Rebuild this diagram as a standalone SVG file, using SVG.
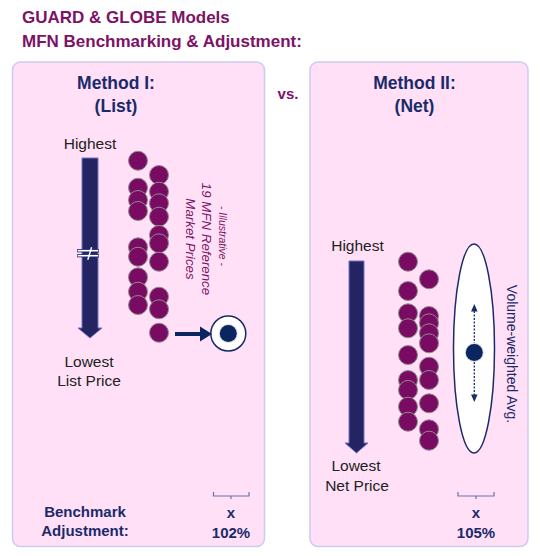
<svg xmlns="http://www.w3.org/2000/svg" width="541" height="556" viewBox="0 0 541 556">
<defs>
<style>
.title{font-family:"Liberation Sans",Arial,sans-serif;font-weight:bold;font-size:17px;fill:#7D1266}
.head{font-family:"Liberation Sans",Arial,sans-serif;font-weight:bold;font-size:17.5px;fill:#1B2A6B;text-anchor:middle}
.lbl{font-family:"Liberation Sans",Arial,sans-serif;font-size:15.5px;fill:#222222;text-anchor:middle}
.bot{font-family:"Liberation Sans",Arial,sans-serif;font-weight:bold;font-size:15px;fill:#1B2A6B;text-anchor:middle}
.ill{font-family:"Liberation Sans",Arial,sans-serif;font-style:italic;fill:#7D1266;text-anchor:middle}
.panel{fill:#FFE0F7;stroke:#CCCCF0;stroke-width:1.5}
.dot{fill:#7A0B63;stroke:#8C8C8C;stroke-width:1}
.bigarrow{fill:#252462;stroke:#6E72C4;stroke-width:1}
.brace{fill:none;stroke:#6B74A8;stroke-width:1.2}
</style>
</defs>
<rect width="541" height="556" fill="#FFFFFF"/>
<g id="title">
<text class="title" x="22" y="23">GUARD &amp; GLOBE Models</text>
<text class="title" x="22" y="47">MFN Benchmarking &amp; Adjustment:</text>
</g>
<g id="vs"><text x="288" y="99" style="font-family:'Liberation Sans',Arial,sans-serif;font-weight:bold;font-size:15px;fill:#7D1266;text-anchor:middle">vs.</text></g>

<g id="panel-method1">
<rect class="panel" x="12.5" y="62" width="252" height="484.5" rx="8"/>
<text class="head" x="116" y="89">Method I:</text>
<text class="head" x="116" y="112">(List)</text>
<text class="lbl" x="90" y="149">Highest</text>
<path class="bigarrow" d="M82,158 H98 V328 H102 L90,338 L78,328 H82 Z"/>
<g id="break">
<line x1="77" y1="250.7" x2="99" y2="250.7" stroke="#1B2A6B" stroke-width="3.2"/>
<line x1="77" y1="255.7" x2="99" y2="255.7" stroke="#1B2A6B" stroke-width="3.2"/>
<line x1="91.9" y1="246.5" x2="87.5" y2="260.5" stroke="#1B2A6B" stroke-width="3.2"/>
<line x1="77.6" y1="250.7" x2="98.4" y2="250.7" stroke="#FFFFFF" stroke-width="1.6"/>
<line x1="77.6" y1="255.7" x2="98.4" y2="255.7" stroke="#FFFFFF" stroke-width="1.6"/>
<line x1="91.6" y1="247.3" x2="87.8" y2="259.7" stroke="#FFFFFF" stroke-width="1.4"/>
</g>
<text class="lbl" x="89" y="367">Lowest</text>
<text class="lbl" x="89" y="386">List Price</text>
<text class="bot" x="85" y="517">Benchmark</text>
<text class="bot" x="85" y="536">Adjustment:</text>
<path class="brace" d="M213.5,492 V496 H249 V492 M231,496 V499"/>
<text class="bot" x="231" y="518">x</text>
<text class="bot" x="231" y="538">102%</text>
</g>

<g id="prices-list">
<circle class="dot" cx="138" cy="160.7" r="9.5"/>
<circle class="dot" cx="159" cy="175" r="9.5"/>
<circle class="dot" cx="138" cy="187.7" r="9.5"/>
<circle class="dot" cx="159" cy="191.7" r="9.5"/>
<circle class="dot" cx="138" cy="200" r="9.5"/>
<circle class="dot" cx="159" cy="203.3" r="9.5"/>
<circle class="dot" cx="138" cy="211" r="9.5"/>
<circle class="dot" cx="159" cy="216.7" r="9.5"/>
<circle class="dot" cx="159" cy="235" r="9.5"/>
<circle class="dot" cx="159" cy="243.3" r="9.5"/>
<circle class="dot" cx="138" cy="247.3" r="9.5"/>
<circle class="dot" cx="138" cy="256.7" r="9.5"/>
<circle class="dot" cx="159" cy="261.7" r="9.5"/>
<circle class="dot" cx="138" cy="277.3" r="9.5"/>
<circle class="dot" cx="138" cy="291.7" r="9.5"/>
<circle class="dot" cx="159" cy="296.7" r="9.5"/>
<circle class="dot" cx="138" cy="305" r="9.5"/>
<circle class="dot" cx="159" cy="309.3" r="9.5"/>
<circle class="dot" cx="159" cy="332.7" r="9.5"/>
</g>
<g id="illustrative-label">
<text class="ill" style="font-size:10.5px" transform="translate(219,236) rotate(90)">- Illustrative -</text>
<text class="ill" style="font-size:13.3px" transform="translate(202,239) rotate(90)">19 MFN Reference</text>
<text class="ill" style="font-size:13.3px" transform="translate(186,239) rotate(90)">Market Prices</text>
</g>
<g id="benchmark-list">
<circle cx="228.3" cy="333.5" r="17.5" fill="#FFFFFF" stroke="#1B2A6B" stroke-width="1.5"/>
<circle cx="228.3" cy="333.5" r="9.5" fill="#C8C8D0" opacity="0.6"/>
<circle cx="228.3" cy="333.5" r="8.5" fill="#0B2560"/>
</g>

<g id="panel-method2">
<rect class="panel" x="310" y="62" width="218" height="484.5" rx="8"/>
<text class="head" x="414.5" y="89">Method II:</text>
<text class="head" x="414.5" y="112">(Net)</text>
<text class="lbl" x="357.5" y="251">Highest</text>
<path class="bigarrow" d="M349,261 H364 V443 H368 L356.5,453 L345,443 H349 Z"/>
<text class="lbl" x="356" y="471">Lowest</text>
<text class="lbl" x="357" y="491">Net Price</text>
<path class="brace" d="M458,492 V496 H494 V492 M476,496 V499"/>
<text class="bot" x="476" y="518">x</text>
<text class="bot" x="476" y="538">105%</text>
</g>

<g id="prices-net">
<circle class="dot" cx="408" cy="261.7" r="9.5"/>
<circle class="dot" cx="429" cy="279.3" r="9.5"/>
<circle class="dot" cx="408" cy="291" r="9.5"/>
<circle class="dot" cx="408" cy="313.3" r="9.5"/>
<circle class="dot" cx="429" cy="316" r="9.5"/>
<circle class="dot" cx="429" cy="323.3" r="9.5"/>
<circle class="dot" cx="408" cy="328.3" r="9.5"/>
<circle class="dot" cx="429" cy="333.3" r="9.5"/>
<circle class="dot" cx="429" cy="343.3" r="9.5"/>
<circle class="dot" cx="408" cy="355" r="9.5"/>
<circle class="dot" cx="429" cy="366.7" r="9.5"/>
<circle class="dot" cx="408" cy="380" r="9.5"/>
<circle class="dot" cx="429" cy="380" r="9.5"/>
<circle class="dot" cx="408" cy="390" r="9.5"/>
<circle class="dot" cx="429" cy="403.3" r="9.5"/>
<circle class="dot" cx="408" cy="406.7" r="9.5"/>
<circle class="dot" cx="408" cy="421.7" r="9.5"/>
<circle class="dot" cx="429" cy="429.3" r="9.5"/>
<circle class="dot" cx="429" cy="440.7" r="9.5"/>
</g>
<g id="weighted-avg">
<ellipse cx="474" cy="348.5" rx="20.5" ry="104.5" fill="#FFFFFF" stroke="#1B2A6B" stroke-width="1.5"/>
<circle cx="474.3" cy="352.5" r="9.5" fill="#C8C8D0" opacity="0.6"/>
<circle cx="474.3" cy="352.5" r="8.5" fill="#0B2560"/>
<text transform="translate(507,354) rotate(90)" style="font-family:'Liberation Sans',Arial,sans-serif;font-size:14px;fill:#1B2A6B;text-anchor:middle">Volume-weighted Avg.</text>
</g>

<g id="connectors">
<line x1="175" y1="334" x2="202" y2="334" stroke="#0B2560" stroke-width="4"/>
<polygon points="200,326.5 212,334 200,341.5" fill="#0B2560"/>
<line x1="474.3" y1="311" x2="474.3" y2="343" stroke="#1B2A6B" stroke-width="1.3" stroke-dasharray="2 1.5"/>
<line x1="474.3" y1="362" x2="474.3" y2="395" stroke="#1B2A6B" stroke-width="1.3" stroke-dasharray="2 1.5"/>
<polygon points="474.3,304 471,311.5 477.6,311.5" fill="#1B2A6B"/>
<polygon points="474.3,402 471,394.5 477.6,394.5" fill="#1B2A6B"/>
</g>
</svg>
